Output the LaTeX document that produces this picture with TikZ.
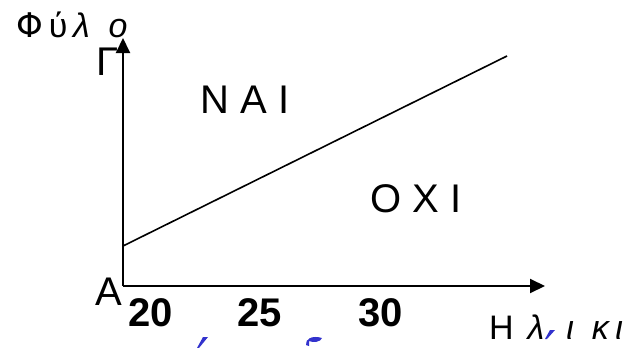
\documentclass[tikz,border=0pt]{standalone}
\usepackage{fontspec}
\setmainfont{Liberation Sans}
\newfontfamily\greekfont{DejaVu Sans}
\usetikzlibrary{arrows.meta}

\definecolor{markblue}{RGB}{50,50,205}

\begin{document}
\begin{tikzpicture}[
	x=1pt, y=-1pt,
	axis/.style={line width=2pt, -{Triangle[length=15pt, width=14pt]}},
	border/.style={line width=1.6pt},
	region/.style={inner sep=0pt, font=\fontsize{40}{40}\selectfont},
	ticklabel/.style={inner sep=0pt, font=\fontsize{40}{40}\selectfont\bfseries},
	axlabel/.style={inner sep=0pt, font=\fontsize{34}{34}\selectfont},
	stray/.style={fill=markblue, draw=none}
]
\useasboundingbox (0,0) rectangle (640,348);

% Axes
\coordinate (origin) at (123,286);
\coordinate (ytop) at (123,38);
\coordinate (xend) at (545,286);
\draw[axis] (origin) -- (ytop);
\draw[axis] (origin) -- (xend);

% Decision boundary
\coordinate (lstart) at (123,246);
\coordinate (lend) at (507,56);
\draw[border] (lstart) -- (lend);

% Axis labels
\node[axlabel] (ylab) at (72,25) {{\greekfont Φ}\,ύ\,\textit{λ}\ \ \textit{ο}};
\node[axlabel] (xlab) at (556,327) {Η\hspace{14pt}\textit{λ}\hspace{22pt}\textit{ι}\hspace{18pt}\textit{κ}\hspace{5pt}\textit{ι}};
\node[region] (gamma) at (108,62) {Γ};
\node[region] (alpha) at (109,292) {Α};

% Regions
\node[region] (yes) at (245,100) {Ν Α Ι};
\node[region] (no) at (416,199) {Ο Χ Ι};

% Ticks
\node[ticklabel] (t20) at (151,313) {20};
\node[ticklabel] (t25) at (260,313) {25};
\node[ticklabel] (t30) at (381,313) {30};

% Stray marks
\fill[stray] (203,337) -- (208,337) -- (199,348) -- (197,348) -- cycle;
\fill[stray] (306,345) .. controls (305,339) and (312,335) .. (322,338) .. controls (321,342) and (313,343) .. (309,341) -- (309,346) -- cycle;
\fill[stray] (550,330) -- (555,330) -- (547,339) -- (545,339) -- cycle;

\end{tikzpicture}
\end{document}
